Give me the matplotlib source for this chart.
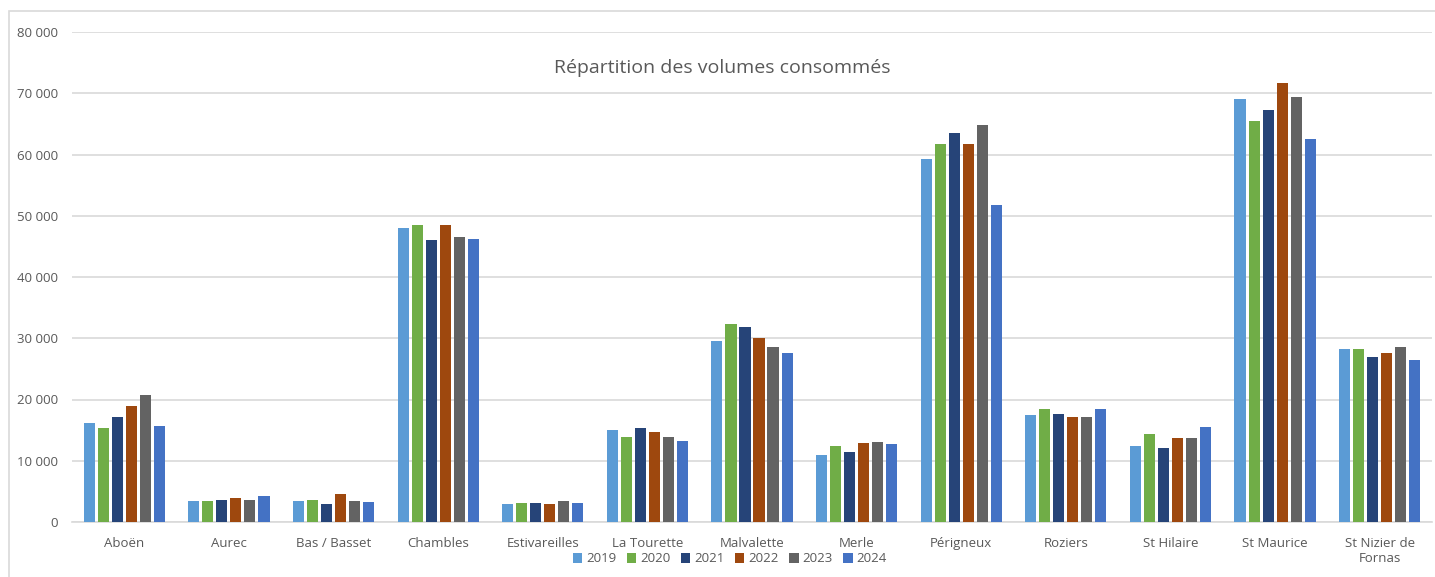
import numpy as np
import matplotlib.pyplot as plt
from matplotlib.patches import Rectangle

communes = ["Aboën", "Aurec", "Bas / Basset", "Chambles", "Estivareilles", "La Tourette",
            "Malvalette", "Merle", "Périgneux", "Roziers", "St Hilaire", "St Maurice",
            "St Nizier de\nFornas"]
annees = ["2019", "2020", "2021", "2022", "2023", "2024"]

v2019 = [16200, 3500, 3400, 48000, 2900, 15000, 29500, 11000, 59200, 17500, 12400, 69000, 28200]
v2020 = [15400, 3400, 3600, 48500, 3100, 13900, 32300, 12400, 61700, 18400, 14300, 65400, 28200]
v2021 = [17200, 3600, 3000, 46000, 3100, 15400, 31900, 11400, 63500, 17600, 12100, 67200, 26900]
v2022 = [19000, 4000, 4500, 48500, 2900, 14700, 30000, 12900, 61700, 17200, 13700, 71700, 27600]
v2023 = [20800, 3600, 3500, 46500, 3500, 13900, 28600, 13100, 64800, 17200, 13700, 69400, 28600]
v2024 = [15600, 4300, 3200, 46200, 3100, 13200, 27600, 12700, 51700, 18500, 15500, 62500, 26500]
series = [v2019, v2020, v2021, v2022, v2023, v2024]
couleurs = ["#5B9BD5", "#70AD47", "#264478", "#9E480E", "#636363", "#4472C4"]

plt.rcParams['font.family'] = ['Open Sans', 'DejaVu Sans']
gris = "#595959"

fig = plt.figure(figsize=(14.35, 5.77), dpi=100)
ax = fig.add_axes([72 / 1435, 55 / 577, 1360 / 1435, 490 / 577])

# cadre du graphique
fig.patches.append(Rectangle((9 / 1435, -0.1), 1.2, 1.1 - 11 / 577, transform=fig.transFigure,
                             fill=False, edgecolor="#D9D9D9", linewidth=1.2))

x = np.arange(len(communes))
pas = 0.134
largeur = 0.106
for i, (vals, c, an) in enumerate(zip(series, couleurs, annees)):
    ax.bar(x + (i - 2.5) * pas, vals, largeur, color=c, label=an, zorder=3)

ax.set_xlim(-0.5, len(communes) - 0.5)
ax.set_ylim(0, 80000)
ax.set_yticks(np.arange(0, 80001, 10000))
ax.set_yticklabels([f"{v:,}".replace(",", " ") for v in range(0, 80001, 10000)])
ax.set_xticks(x)
ax.set_xticklabels(communes)
ax.grid(axis='y', color="#D9D9D9", linewidth=1.2, zorder=0)
for s in ["top", "right", "left"]:
    ax.spines[s].set_visible(False)
ax.spines["bottom"].set_color("#D9D9D9")
ax.spines["bottom"].set_linewidth(1.2)
ax.tick_params(axis='both', length=0, labelcolor=gris, labelsize=9.5)
ax.tick_params(axis='x', pad=11)
ax.tick_params(axis='y', pad=10)

fig.text(722 / 1435, 1 - 68 / 577, "Répartition des volumes consommés", ha="center", va="center",
         fontsize=14, color=gris)

fig.legend(loc="center", bbox_to_anchor=(730 / 1435, 1 - 559 / 577), ncol=6, frameon=False,
           handlelength=0.7, handleheight=0.7, handletextpad=0.3, columnspacing=0.8,
           fontsize=9.5, labelcolor=gris, borderpad=0)

fig.savefig("out.png", dpi=100)
